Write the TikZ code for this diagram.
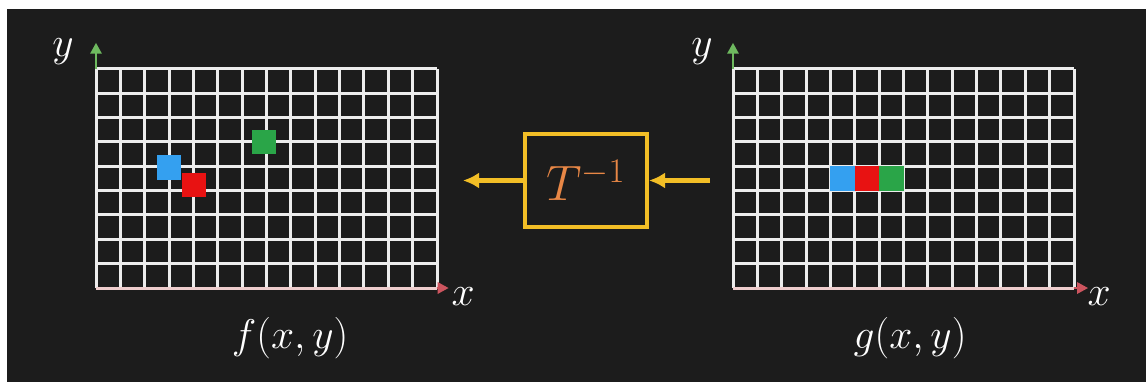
\documentclass[tikz,border=0pt]{standalone}
\usepackage{xcolor}
\usepackage{amsmath}
\usepackage{tikz}
\usetikzlibrary{positioning}
\usetikzlibrary{calc,arrows.meta}
\definecolor{bgdark}{RGB}{28,28,28}
\definecolor{gridwhite}{RGB}{236,236,236}
\definecolor{edgepink}{RGB}{238,205,205}
\definecolor{cellblue}{RGB}{52,160,240}
\definecolor{cellred}{RGB}{232,18,18}
\definecolor{cellgreen}{RGB}{42,165,72}
\definecolor{axisgreen}{RGB}{110,185,95}
\definecolor{axisred}{RGB}{205,85,95}
\definecolor{tgold}{RGB}{242,190,38}
\definecolor{torange}{RGB}{232,135,70}
\tikzset{
  gridline/.style = {draw=gridwhite, line width=1.5pt},
  yaxis/.style = {draw=axisgreen, line width=1.4pt, -{Triangle[width=5.5pt,length=5.5pt]}},
  xaxis/.style = {draw=axisred, line width=1.4pt, -{Triangle[width=5.5pt,length=5.5pt]}},
  axlabel/.style = {text=white, inner sep=0pt, font=\fontsize{21}{24}\selectfont},
  fnlabel/.style = {text=white, inner sep=0pt, font=\fontsize{21}{25}\selectfont},
  tbox/.style = {draw=tgold, line width=2pt, minimum width=61pt, minimum height=46.5pt,
    text=torange, font=\fontsize{24}{28}\selectfont},
  flow/.style = {draw=tgold, line width=2.6pt, -{Latex[width=8pt,length=8pt]}},
}

\begin{document}
\begin{tikzpicture}[x=0.5pt,y=-0.5pt]
\useasboundingbox (0,0) rectangle (1146,382);
\fill[white] (0,0) rectangle (1146,382);
\fill[bgdark] (7,9) rectangle (1146,382);

% input image f(x,y)
\begin{scope}[shift={(96,288)},x=12.18pt,y=12.18pt]
  \foreach \i in {0,...,14} \draw[gridline] (\i,0) -- (\i,9);
  \foreach \j in {1,...,9} \draw[gridline] (0,\j) -- (14,\j);
  \draw[gridline,draw=edgepink] (0,0) -- (14,0);
  \fill[cellblue] (2.5,4.45) rectangle ++(1,1);
  \fill[cellred] (3.52,3.74) rectangle ++(1,1);
  \fill[cellgreen] (6.42,5.52) rectangle ++(0.98,0.95);
  \coordinate (fo) at (0,0);
  \draw[yaxis] (0,9) -- (0,10.07);
  \draw[xaxis] (14,0) -- (14.48,0);
  \node[axlabel] (fy) at (-1.35,9.7) {$y$};
  \node[axlabel] (fx) at (15.07,-0.35) {$x$};
  \node[fnlabel] (fxy) at (7.97,-2.05) {$f(x,y)$};
\end{scope}

% output image g(x,y)
\begin{scope}[shift={(733,288)},x=12.18pt,y=12.18pt]
  \foreach \i in {0,...,14} \draw[gridline] (\i,0) -- (\i,9);
  \foreach \j in {1,...,9} \draw[gridline] (0,\j) -- (14,\j);
  \draw[gridline,draw=edgepink] (0,0) -- (14,0);
  \foreach \cx/\cc in {4/cellblue,5/cellred,6/cellgreen}
    \fill[\cc] (\cx,4) rectangle ++(1,1);
  \coordinate (go) at (0,0);
  \draw[yaxis] (0,9) -- (0,10.07);
  \draw[xaxis] (14,0) -- (14.58,0);
  \node[axlabel] (gy) at (-1.27,9.7) {$y$};
  \node[axlabel] (gx) at (15.03,-0.35) {$x$};
  \node[fnlabel] (gxy) at (7.27,-2.05) {$g(x,y)$};
\end{scope}

% inverse transform
\node[tbox] (tinv) at (586,180.5) {$T^{-1}$};
\coordinate (gin) at (710,180.5);
\coordinate (fout) at (463,180.5);
\draw[flow] (gin) -- (tinv.east);
\draw[flow] (tinv.west) -- (fout);
\end{tikzpicture}
\end{document}
